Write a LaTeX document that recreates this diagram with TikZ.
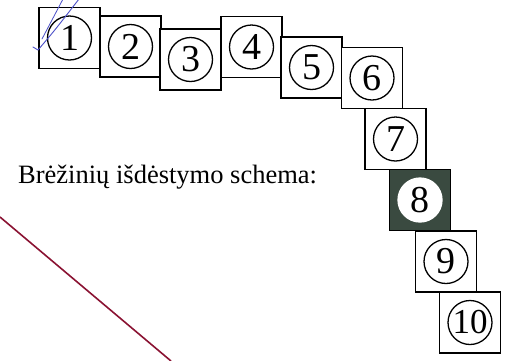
\documentclass[tikz,border=0pt]{standalone}
\usepackage{fontspec}
\setmainfont{Liberation Serif}
\definecolor{boxfill}{HTML}{3A4A40}
\definecolor{redline}{HTML}{8A1232}
\definecolor{penblue}{HTML}{4A4FC8}
\begin{document}
\begin{tikzpicture}[x=1pt,y=-1pt,
  sheet/.style={draw=black,line width=1.8pt,fill=white,minimum width=61pt,minimum height=61pt,inner sep=0pt,outer sep=0pt},
  darksheet/.style={sheet,fill=boxfill},
  num/.style={draw=black,line width=1.3pt,circle,fill=white,minimum size=44pt,inner sep=0pt,font=\fontsize{38}{38}\selectfont},
  numten/.style={num,font=\fontsize{35}{35}\selectfont}]
\useasboundingbox (0,0) rectangle (524,360);
\path[fill=white] (0,0) rectangle (524,360);
\node[sheet] (b1) at (69.5,38) {};
\node[num] (c1) at (b1.center) {1};
\node[sheet] (b2) at (130.5,46.5) {};
\node[num] (c2) at (b2.center) {2};
\node[sheet] (b3) at (190.5,59.5) {};
\node[num] (c3) at (b3.center) {3};
\node[sheet] (b4) at (251.5,47) {};
\node[num] (c4) at (b4.center) {4};
\node[sheet] (b5) at (311.5,67.5) {};
\node[num] (c5) at (b5.center) {5};
\node[sheet] (b6) at (372,78) {};
\node[num] (c6) at (b6.center) {6};
\node[sheet] (b7) at (395.5,139) {};
\node[num] (c7) at (b7.center) {7};
\node[darksheet] (b8) at (420,200) {};
\node[num,draw=white] (c8) at (b8.center) {8};
\node[sheet] (b9) at (446,261.5) {};
\node[num] (c9) at (b9.center) {9};
\node[sheet] (b10) at (470,322.5) {};
\node[numten] (c10) at (b10.center) {10};
\node[anchor=base west,inner sep=0pt,font=\fontsize{26.5}{26.5}\selectfont] (title) at (18,183) {Brėžinių išdėstymo schema:};
\coordinate (r1) at (0,217);
\coordinate (r2) at (171,361);
\draw[redline,line width=1.6pt] (r1) -- (r2);
\coordinate (p1) at (33,47);
\coordinate (p2) at (38,50);
\coordinate (p3) at (79,-1);
\coordinate (q1) at (42,39);
\coordinate (q2) at (63,-1);
\draw[penblue,line width=0.9pt,line cap=round] (p1) -- (p2) .. controls (55,30) .. (p3);
\draw[penblue,line width=0.8pt,line cap=round] (q1) .. controls (52,20) .. (q2);
\end{tikzpicture}
\end{document}
